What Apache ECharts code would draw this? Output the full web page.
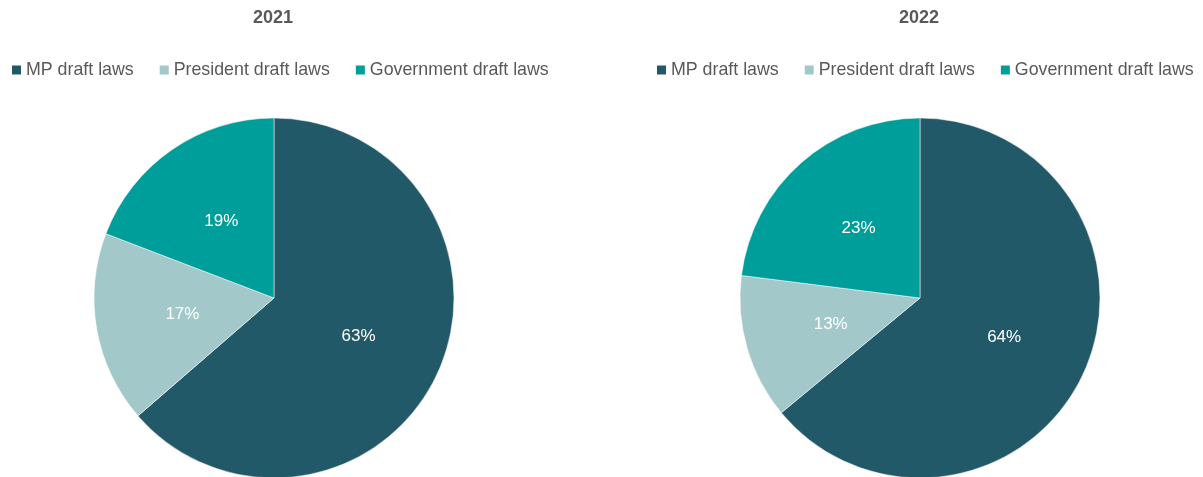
<!DOCTYPE html>
<html>
<head>
<meta charset="utf-8">
<script src="https://cdn.jsdelivr.net/npm/echarts@6/dist/echarts.min.js"></script>
<style>html,body{margin:0;padding:0;background:#fff}#c{width:1203px;height:477px}</style>
</head>
<body>
<div id="c"></div>
<script>
const categories = ['MP draft laws', 'President draft laws', 'Government draft laws'];
const years = ['2021', '2022'];
const values2021 = [63, 17, 19];
const values2022 = [64, 13, 23];
const colors = ['#215968', '#A2C8C9', '#009E9A'];

const chart = echarts.init(document.getElementById('c'), null, {renderer: 'canvas'});
const font = '"Liberation Sans", Arial, sans-serif';
const centers = [274, 920];
const allValues = [values2021, values2022];

const legendCommon = {
  data: categories,
  top: 61,
  width: 600,
  padding: 0,
  itemWidth: 11,
  itemHeight: 11,
  itemGap: 24,
  icon: 'rect',
  textStyle: {fontFamily: font, fontSize: 17.8, color: '#595959', padding: [0, 0, 0, -1]}
};

chart.setOption({
  animation: false,
  color: colors,
  title: years.map((y, i) => ({
    text: y,
    left: centers[i] - 1,
    textAlign: 'center',
    top: 9,
    padding: 0,
    textStyle: {fontFamily: font, fontSize: 18, fontWeight: 'bold', color: '#595959'}
  })),
  legend: [
    Object.assign({}, legendCommon, {left: 10}),
    Object.assign({}, legendCommon, {left: 655})
  ],
  series: years.map((y, i) => ({
    type: 'pie',
    name: y,
    center: [centers[i], 298],
    radius: 180,
    startAngle: 90,
    clockwise: true,
    silent: true,
    itemStyle: {borderColor: '#fff', borderWidth: 0.5},
    label: {
      show: true,
      position: 'inside',
      formatter: '{c}%',
      color: '#fff',
      fontFamily: font,
      fontSize: 17
    },
    labelLine: {show: false},
    data: categories.map((c, k) => ({name: c, value: allValues[i][k]}))
  }))
});
</script>
</body>
</html>
